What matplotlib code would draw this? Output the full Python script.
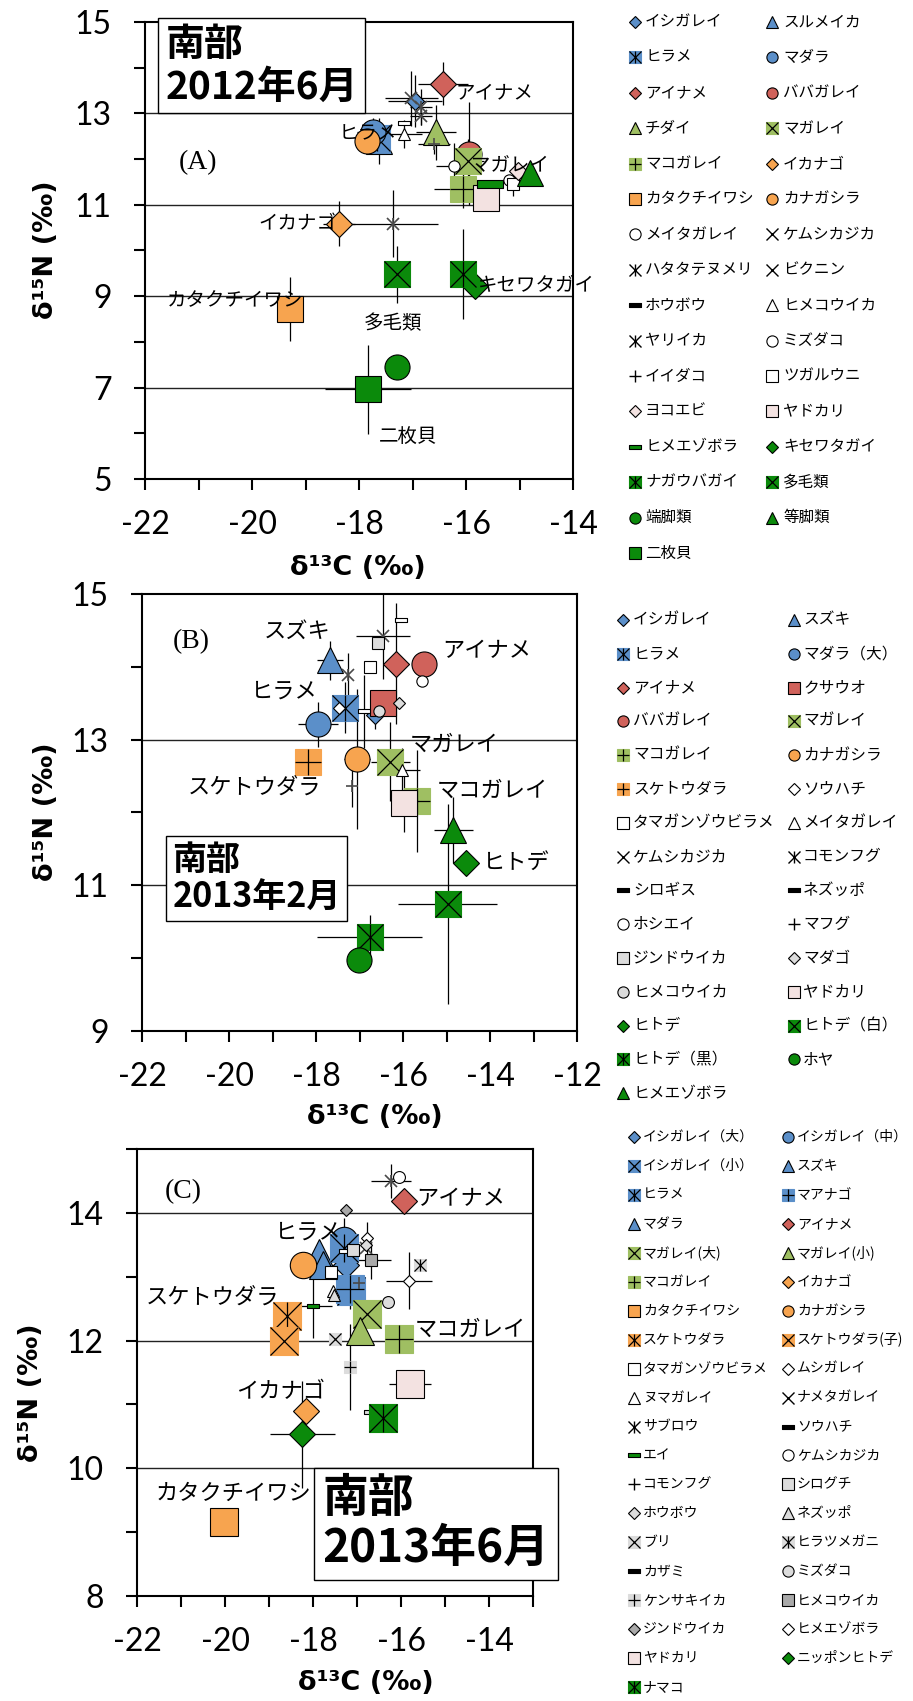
import numpy as np
import matplotlib
matplotlib.use("Agg")
import matplotlib.pyplot as plt
from matplotlib.path import Path

plt.rcParams['font.family'] = ['Noto Sans CJK JP', 'DejaVu Sans']

# ---------------- (A) 南部 2012年6月 ----------------
A_names = ['イシガレイ', 'スルメイカ', 'ヒラメ', 'マダラ', 'アイナメ', 'ババガレイ',
           'チダイ', 'マガレイ', 'マコガレイ', 'イカナゴ', 'カタクチイワシ', 'カナガシラ',
           'メイタガレイ', 'ケムシカジカ', 'ハタタテヌメリ', 'ビクニン', 'ホウボウ', 'ヒメコウイカ',
           'ヤリイカ', 'ミズダコ', 'イイダコ', 'ツガルウニ', 'ヨコエビ', 'ヤドカリ',
           'ヒメエゾボラ', 'キセワタガイ', 'ナガウバガイ', '多毛類', '端脚類', '等脚類', '二枚貝']
A_x = [-16.95, -17.63, -17.67, -17.74, -16.43, -15.95,
       -16.56, -15.97, -16.05, -18.38, -19.29, -17.85,
       -16.23, -17.02, -16.84, -16.84, -17.16, -17.16,
       -17.37, -15.20, -16.59, -15.12, -15.02, -15.62,
       -15.55, -15.84, -16.05, -17.29, -17.29, -14.80, -17.83]
A_y = [13.28, 12.39, 12.47, 12.59, 13.65, 12.12,
       12.59, 11.95, 11.34, 10.59, 8.72, 12.39,
       11.85, 13.33, 13.14, 12.94, 12.79, 12.55,
       10.59, 11.55, 12.32, 11.46, 11.73, 11.14,
       11.46, 9.23, 9.48, 9.48, 7.46, 11.69, 6.96]
A_xerr = [0.5, 0, 0, 0.3, 0.47, 0,
          0.38, 0.3, 0.55, 0.3, 0, 0,
          0.33, 0.5, 0.2, 0.2, 0, 0.34,
          0.84, 0, 0.3, 0, 0, 0,
          0, 0, 0, 0, 0, 0, 0.8]
A_yerr = [0.57, 0.5, 0, 0.3, 0.47, 1.13,
          0.6, 0.5, 0.4, 0.49, 0.7, 0,
          0.5, 0.6, 0.4, 0.2, 0, 0.3,
          0.74, 0, 0.2, 0.27, 0, 0.25,
          0, 0, 0.98, 0.62, 0, 0, 0.98]
A_lab = ['アイナメ', 'ヒラメ', 'マガレイ', 'イカナゴ', 'キセワタガイ', 'カタクチイワシ', '多毛類', '二枚貝']
A_lab_x = [-16.2, -18.38, -15.91, -19.89, -15.77, -21.6, -17.92, -17.63]
A_lab_y = [13.44, 12.55, 11.85, 10.59, 9.23, 8.91, 8.40, 5.90]

# ---------------- (B) 南部 2013年2月 ----------------
B_names = ['イシガレイ', 'スズキ', 'ヒラメ', 'マダラ（大）', 'アイナメ', 'クサウオ',
           'ババガレイ', 'マガレイ', 'マコガレイ', 'カナガシラ', 'スケトウダラ', 'ソウハチ',
           'タマガンゾウビラメ', 'メイタガレイ', 'ケムシカジカ', 'コモンフグ', 'シロギス', 'ネズッポ',
           'ホシエイ', 'マフグ', 'ジンドウイカ', 'マダゴ', 'ヒメコウイカ', 'ヤドカリ',
           'ヒトデ', 'ヒトデ（白）', 'ヒトデ（黒）', 'ホヤ', 'ヒメエゾボラ']
B_x = [-16.64, -17.68, -17.34, -17.96, -16.16, -16.46,
       -15.51, -16.29, -15.67, -17.06, -18.18, -17.47,
       -16.77, -16.02, -16.46, -17.27, -16.04, -16.90,
       -15.56, -17.17, -16.57, -16.09, -16.55, -15.98,
       -14.55, -14.97, -16.77, -17.01, -14.84]
B_y = [13.34, 14.09, 13.44, 13.21, 14.04, 13.51,
       14.04, 12.70, 12.16, 12.73, 12.70, 13.44,
       14.00, 12.59, 14.43, 13.89, 14.64, 13.39,
       13.81, 12.37, 14.33, 13.51, 13.39, 12.13,
       11.31, 10.74, 10.29, 9.97, 11.76]
B_xerr = [0, 0.29, 0.3, 0.46, 0.3, 0,
          0, 0.44, 0.3, 0.3, 0, 0,
          0, 0.4, 0.62, 0, 0, 0,
          0, 0, 0, 0, 0, 0,
          0, 1.14, 1.21, 0, 0.44]
B_yerr = [0.2, 0.27, 0.35, 0.31, 0.83, 0,
          0, 0.54, 0.7, 0.96, 0, 0,
          0, 0.3, 0.6, 0.3, 0, 0.5,
          0, 0.3, 0, 0, 0, 0.4,
          0, 1.37, 0.3, 0, 0.45]
B_lab = ['スズキ', 'アイナメ', 'ヒラメ', 'マガレイ', 'スケトウダラ', 'マコガレイ', 'ヒトデ']
B_lab_x = [-19.19, -15.1, -19.5, -15.85, -20.95, -15.23, -14.16]
B_lab_y = [14.49, 14.22, 13.67, 12.94, 12.35, 12.30, 11.32]

# ---------------- (C) 南部 2013年6月 ----------------
C_names = ['イシガレイ（大）', 'イシガレイ（中）', 'イシガレイ（小）', 'スズキ', 'ヒラメ', 'マアナゴ',
           'マダラ', 'アイナメ', 'マガレイ(大)', 'マガレイ(小)', 'マコガレイ', 'イカナゴ',
           'カタクチイワシ', 'カナガシラ', 'スケトウダラ', 'スケトウダラ(子)', 'タマガンゾウビラメ', 'ムシガレイ',
           'ヌマガレイ', 'ナメタガレイ', 'サブロウ', 'ソウハチ', 'エイ', 'ケムシカジカ',
           'コモンフグ', 'シログチ', 'ホウボウ', 'ネズッポ', 'ブリ', 'ヒラツメガニ',
           'カザミ', 'ミズダコ', 'ケンサキイカ', 'ヒメコウイカ', 'ジンドウイカ', 'ヒメエゾボラ',
           'ヤドカリ', 'ニッポンヒトデ', 'ナマコ']
C_x = [-17.24, -17.29, -17.14, -17.86, -17.30, -17.16,
       -17.78, -15.94, -16.77, -16.94, -16.04, -18.17,
       -20.02, -18.22, -18.59, -18.65, -17.60, -16.77,
       -17.55, -16.80, -16.23, -17.28, -18.01, -16.05,
       -16.95, -17.08, -16.80, -17.52, -17.51, -15.56,
       -16.70, -16.29, -17.16, -16.69, -17.26, -15.82,
       -15.80, -18.24, -16.42]
C_y = [13.19, 13.57, 12.78, 13.37, 13.45, 12.80,
       13.19, 14.18, 12.42, 12.15, 12.02, 10.89,
       9.16, 13.19, 12.39, 11.99, 13.07, 13.60,
       12.78, 13.45, 14.50, 13.40, 12.54, 14.56,
       12.90, 13.42, 13.50, 12.72, 12.03, 13.19,
       10.88, 12.61, 11.59, 13.26, 14.05, 12.94,
       11.32, 10.53, 10.79]
C_xerr = [0, 0.3, 0, 0, 0, 0,
          0, 0, 0, 0, 0.3, 0,
          0, 0, 0, 0, 0, 0,
          0, 0, 0.45, 0, 0.45, 0,
          0, 0, 0, 0, 0, 0,
          0, 0, 0, 0.47, 0, 0.52,
          0.48, 0.74, 0]
C_yerr = [0, 0.35, 0, 0, 0, 0.3,
          0, 0, 0, 0, 0.2, 0,
          0, 0, 0, 0, 0, 0.25,
          0, 0, 0.27, 0, 0.5, 0,
          0, 0, 0, 0, 0, 0,
          0, 0, 0.67, 0.3, 0, 0.45,
          0, 0.84, 0]
C_lab = ['アイナメ', 'ヒラメ', 'スケトウダラ', 'マコガレイ', 'イカナゴ', 'カタクチイワシ']
C_lab_x = [-15.65, -18.86, -21.81, -15.69, -19.75, -21.57]
C_lab_y = [14.23, 13.69, 12.68, 12.18, 11.20, 9.60]

# marker styles: "shape overlay colour size"
A_style = ['D . b M', '^ . b L', 's * b L', 'o . b L', 'D . r L', 'o . r L',
           '^ . g L', 's x g L', 's + g L', 'D . o L', 's . o L', 'o . o L',
           'o . w S', 'n x m S', 'n * m S', 'n x m S', '- . w S', '^ . w S',
           'n * m S', 'o . w S', 'n + m S', 's . w S', 'D . p M', 's . p L',
           '- . k L', 'D . k L', 's * k L', 's x k L', 'o . k L', '^ . k L', 's . k L']
B_style = ['D . b M', '^ . b L', 's * b L', 'o . b L', 'D . r L', 's . r L',
           'o . r L', 's x g L', 's + g L', 'o . o L', 's + o L', 'D . w S',
           's . w S', '^ . w S', 'n x m S', 'n * m S', '- . w S', '- . w S',
           'o . w S', 'n + m S', 's . l S', 'D . l S', 'o . l S', 's . p L',
           'D . k L', 's x k L', 's * k L', 'o . k L', '^ . k L']
C_style = ['D . b L', 'o . b L', 's x b L', '^ . b L', 's * b L', 's + b L',
           '^ . b L', 'D . r L', 's x g L', '^ . g L', 's + g L', 'D . o L',
           's . o L', 'o . o L', 's * o L', 's x o L', 's . w S', 'D . w S',
           '^ . w S', 'n x m S', 'n * m S', '- . w S', '- . k S', 'o . w S',
           'n + m S', 's . l S', 'D . l S', '^ . l S', 's x l S', 's * l S',
           '- . l S', 'o . l S', 's + l S', 's . m S', 'D . m S', 'D . w S',
           's . p L', 'D . k L', 's * k L']

CLR = {'b': '#5b8fc9', 'r': '#d0625b', 'g': '#9fbf62', 'o': '#f7a44f', 'k': '#0b8a0b',
       'p': '#f3e2e1', 'w': 'white', 'l': '#dcdcdc', 'm': '#a9a9a9'}
GROW = {'L': 1.0, 'M': 0.7, 'S': 0.45}
SHAPE_K = {'D': 0.68, '^': 1.0, 'o': 0.95, 's': 1.0, '-': 1.0}
DASH = Path([(-1, -0.28), (1, -0.28), (1, 0.28), (-1, 0.28), (-1, -0.28)],
            [Path.MOVETO, Path.LINETO, Path.LINETO, Path.LINETO, Path.CLOSEPOLY])


def put(ax, x, y, code, ms, z, key=False):
    shape, over, c = code.split()[:3]
    if shape != 'n':
        mk = DASH if shape == '-' else shape
        fc = CLR[c]
        if key and shape == '-' and c != 'k':
            fc = 'black'
        ec = fc if over != '.' else 'black'
        ax.plot([x], [y], ls='none', marker=mk, ms=ms * SHAPE_K[shape], mfc=fc,
                mec=ec, mew=0.8, zorder=z, clip_on=False)
        lc, lw = 'black', 0.9
    else:
        lc, lw = ('black', 1.0) if key else ('#4a4a4a', 1.2)
    if over in ('x', '+'):
        ax.plot([x], [y], ls='none', marker=over, ms=ms, mec=lc, mew=lw, zorder=z, clip_on=False)
    elif over == '*':
        for m in ('x', '|'):
            ax.plot([x], [y], ls='none', marker=m, ms=ms, mec=lc, mew=lw, zorder=z, clip_on=False)


def rect(l, r, t, b):
    return [l / 913, 1 - b / 1701, (r - l) / 913, (b - t) / 1701]


fig = plt.figure(figsize=(9.13, 17.01), dpi=100)
axl = fig.add_axes([0, 0, 1, 1])
axl.set_xlim(0, 913)
axl.set_ylim(1701, 0)
axl.axis('off')

panels = [
    dict(names=A_names, x=A_x, y=A_y, xe=A_xerr, ye=A_yerr, st=A_style,
         lab=A_lab, lx=A_lab_x, ly=A_lab_y, lfs=14, big=19,
         pos=rect(145, 573, 22, 479), xlim=(-22, -14), ylim=(5, 15),
         ymaj=np.arange(5, 16, 2), ymin=np.arange(6, 15, 2), grid=[7, 9, 11, 13],
         tag='(A)', tagxy=(-21.0, 11.92), box='南部\n2012年6月', boxxy=(-21.62, 14.04), boxfs=28,
         xl=(358, 568), yl=(46, 250),
         leg=dict(y0=22, dy=35.4, mx=(635, 772), tx=(645, 783), fs=11.2)),
    dict(names=B_names, x=B_x, y=B_y, xe=B_xerr, ye=B_yerr, st=B_style,
         lab=B_lab, lx=B_lab_x, ly=B_lab_y, lfs=16, big=19,
         pos=rect(142, 577, 594, 1031), xlim=(-22, -12), ylim=(9, 15),
         ymaj=np.arange(9, 16, 2), ymin=np.arange(10, 15, 2), grid=[11, 13],
         tag='(B)', tagxy=(-20.86, 14.34), box='南部\n2013年2月', boxxy=(-21.30, 11.1), boxfs=24.5,
         xl=(375, 1117), yl=(46, 812),
         leg=dict(y0=620, dy=33.8, mx=(623, 794), tx=(633, 803), fs=11.3)),
    dict(names=C_names, x=C_x, y=C_y, xe=C_xerr, ye=C_yerr, st=C_style,
         lab=C_lab, lx=C_lab_x, ly=C_lab_y, lfs=16, big=20,
         pos=rect(137, 533, 1149, 1596), xlim=(-22, -13), ylim=(8, 15),
         ymaj=np.arange(8, 15, 2), ymin=np.arange(9, 16, 2), grid=[10, 12, 14],
         tag='(C)', tagxy=(-20.95, 14.34), box='南部\n2013年6月', boxxy=(-17.78, 9.13), boxfs=33,
         xl=(366, 1683), yl=(31, 1393),
         leg=dict(y0=1137, dy=28.95, mx=(634, 788), tx=(643, 797), fs=10)),
]

for p in panels:
    ax = fig.add_axes(p['pos'])
    ax.set_xlim(*p['xlim'])
    ax.set_ylim(*p['ylim'])
    ax.set_xticks(np.arange(p['xlim'][0], p['xlim'][1] + 0.1, 2)) if p['xlim'][1] % 2 == 0 else \
        ax.set_xticks(np.arange(p['xlim'][0], p['xlim'][1], 2))
    ax.set_xticks(np.arange(p['xlim'][0] + 1, p['xlim'][1] + 0.1, 2), minor=True)
    ax.set_yticks(p['ymaj'])
    ax.set_yticks(p['ymin'], minor=True)
    ax.xaxis.set_major_formatter(matplotlib.ticker.FuncFormatter(lambda v, _: '%d' % v))
    ax.yaxis.set_major_formatter(matplotlib.ticker.FuncFormatter(lambda v, _: '%d' % v))
    ax.tick_params(which='both', direction='out', length=8, width=1.5)
    ax.tick_params(labelsize=23, labelfontfamily='Lato')
    ax.tick_params(axis='x', pad=14)
    ax.tick_params(axis='y', pad=16)
    for s in ax.spines.values():
        s.set_linewidth(1.5)
    for g in p['grid']:
        ax.axhline(g, color='#222222', lw=1.0, zorder=1)

    ax.errorbar(p['x'], p['y'], xerr=p['xe'], yerr=p['ye'], fmt='none',
                ecolor='black', elinewidth=0.9, capsize=0, zorder=2)
    for i, (x, y, st) in enumerate(zip(p['x'], p['y'], p['st'])):
        put(ax, x, y, st, p['big'] * GROW[st.split()[3]], 3 + i * 0.01)

    for t, x, y in zip(p['lab'], p['lx'], p['ly']):
        ax.text(x, y, t, fontsize=p['lfs'], ha='left', va='center', zorder=5)
    ax.text(*p['tagxy'], p['tag'], fontsize=20, family='Liberation Serif', ha='center', va='center')
    ax.text(*p['boxxy'], p['box'], fontsize=p['boxfs'], fontweight='bold', ha='left', va='center',
            linespacing=1.1, zorder=6, clip_on=False,
            bbox=dict(boxstyle='square,pad=0.18', fc='white', ec='black', lw=1))

    ax.set_xlabel('δ¹³C (‰)', fontsize=19.5, fontweight='bold', family='DejaVu Sans')
    ax.set_ylabel('δ¹⁵N (‰)', fontsize=19.5, fontweight='bold', family='DejaVu Sans')
    ax.xaxis.set_label_coords(*p['xl'], transform=axl.transData)
    ax.yaxis.set_label_coords(*p['yl'], transform=axl.transData)
    ax.xaxis.label.set_va('center')
    ax.yaxis.label.set_va('center')

    lg = p['leg']
    for i, (nm, st) in enumerate(zip(p['names'], p['st'])):
        r, c = divmod(i, 2)
        yy = lg['y0'] + r * lg['dy']
        put(axl, lg['mx'][c], yy, st, 8.5, 3, key=True)
        axl.text(lg['tx'][c], yy, nm, fontsize=lg['fs'], ha='left', va='center')

fig.savefig('out.png', dpi=100)
